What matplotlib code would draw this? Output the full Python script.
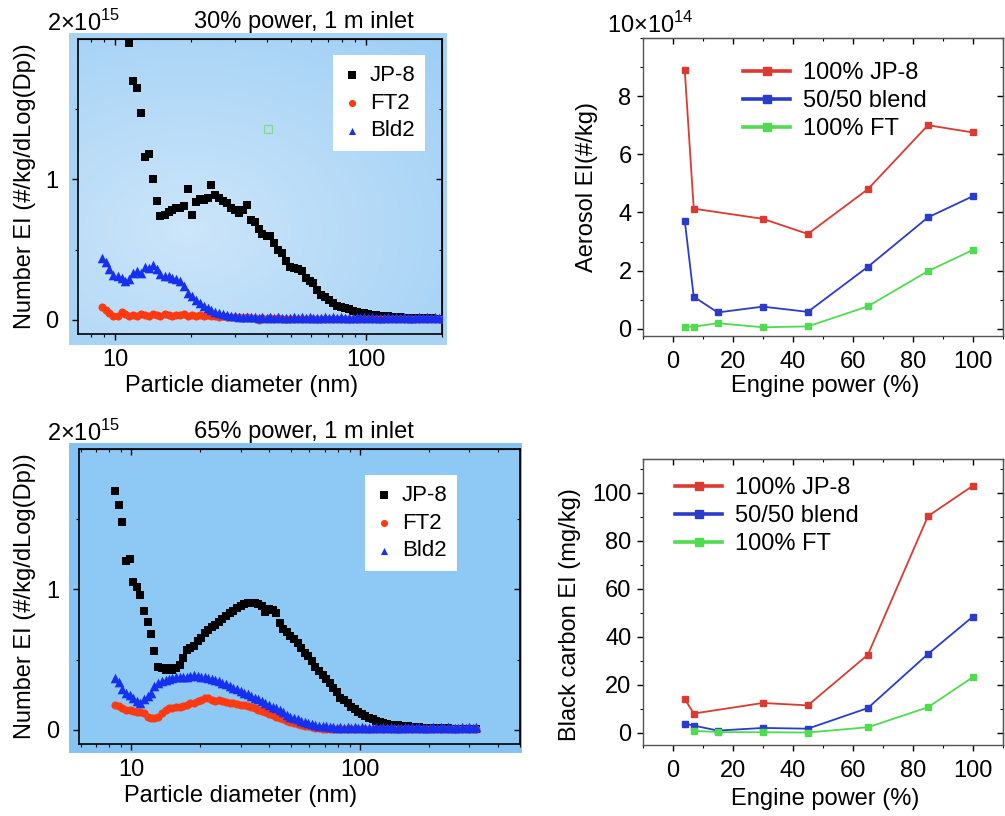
import numpy as np
import matplotlib
matplotlib.use('Agg')
import matplotlib.pyplot as plt
from matplotlib.patches import Rectangle
from matplotlib.ticker import NullFormatter, MultipleLocator, FixedLocator

plt.rcParams['font.family'] = ['Liberation Sans', 'DejaVu Sans']
plt.rcParams['mathtext.fontset'] = 'custom'
plt.rcParams['mathtext.rm'] = 'Liberation Sans'
plt.rcParams['font.size'] = 17

nan = np.nan

# ---- size distributions, 30% power (values in 1e15 #/kg/dLog(Dp)) ----
D30 = [8.82, 9.14, 9.47, 9.82, 10.2, 10.6, 10.9, 11.3,
       11.8, 12.2, 12.6, 13.1, 13.6, 14.1, 14.6, 15.1,
       15.7, 16.3, 16.8, 17.5, 18.1, 18.8, 19.5, 20.2,
       20.9, 21.7, 22.5, 23.3, 24.1, 25.0, 25.9, 26.9,
       27.9, 28.9, 30.0, 31.1, 32.2, 33.4, 34.6, 35.9,
       37.2, 38.5, 40.0, 41.4, 42.9, 44.5, 46.1, 47.8,
       49.6, 51.4, 53.3, 55.2, 57.3, 59.4, 61.5, 63.8,
       66.1, 68.5, 71.0, 73.7, 76.4, 79.1, 82.0, 85.1,
       88.2, 91.4, 94.7, 98.2, 101.8, 105.5, 109.4, 113.4,
       117.6, 121.9, 126.3, 131.0, 135.8, 140.7, 145.9, 151.2,
       156.8, 162.5, 168.5, 174.7, 181.1, 187.7, 194.6, 201.7]
JP8_30 = [nan, nan, nan, nan, nan, nan, nan, 1.97,
          1.70, 1.65, 1.47, 1.16, 1.18, 1.00, 0.85, 0.74,
          0.75, 0.77, 0.78, 0.80, 0.795, 0.81, 0.93, 0.75,
          0.84, 0.86, 0.855, 0.87, 0.96, 0.89, 0.87, 0.85,
          0.83, 0.80, 0.78, 0.76, 0.78, 0.82, 0.71, 0.70,
          0.65, 0.61, 0.60, 0.595, 0.55, 0.50, 0.48, 0.42,
          0.38, 0.37, 0.36, 0.35, 0.30, 0.275, 0.265, 0.21,
          0.18, 0.16, 0.14, 0.12, 0.10, 0.09, 0.088, 0.08,
          0.066, 0.06, 0.052, 0.046, 0.040, 0.037, 0.033, 0.030,
          0.027, 0.025, 0.022, 0.020, 0.018, 0.016, 0.015, 0.014,
          0.013, 0.012, 0.012, 0.011, 0.011, 0.010, 0.010, 0.010]
FT2_30 = [0.095, 0.07, 0.05, 0.03, 0.03, 0.055, 0.045, 0.03,
          0.035, 0.03, 0.04, 0.035, 0.03, 0.04, 0.035, 0.03,
          0.04, 0.035, 0.03, 0.038, 0.032, 0.04, 0.03, 0.035,
          0.03, 0.035, 0.028, 0.032, 0.025, 0.03, 0.022, 0.025,
          0.02, 0.022, 0.018, 0.02, 0.015, 0.018, 0.015, 0.012,
          0.0, 0.012, 0.01, 0.012, 0.01, 0.012, 0.01, 0.01,
          0.01, 0.01, 0.01, 0.01, 0.01, 0.01, 0.01, 0.01,
          0.01, 0.01, 0.01, 0.01, 0.01, 0.01, 0.01, 0.01,
          0.01, 0.01, 0.01, 0.01, 0.01, 0.01, 0.01, 0.01,
          0.01, 0.01, 0.01, 0.01, 0.01, 0.01, 0.01, 0.01,
          0.01, 0.01, 0.01, 0.01, 0.01, 0.01, 0.01, 0.01]
BLD2_30 = [0.44, 0.41, 0.36, 0.32, 0.31, 0.30, 0.28, 0.29,
           0.335, 0.35, 0.335, 0.38, 0.37, 0.39, 0.36, 0.33,
           0.31, 0.31, 0.30, 0.29, 0.28, 0.24, 0.19, 0.17,
           0.14, 0.12, 0.10, 0.085, 0.07, 0.06, 0.05, 0.04,
           0.035, 0.03, 0.028, 0.022, 0.02, 0.024, 0.018, 0.02,
           0.015, 0.02, 0.012, 0.018, 0.014, 0.02, 0.012, 0.017,
           0.015, 0.02, 0.012, 0.018, 0.014, 0.02, 0.012, 0.017,
           0.015, 0.02, 0.012, 0.018, 0.014, 0.02, 0.012, 0.017,
           0.015, 0.02, 0.012, 0.018, 0.014, 0.02, 0.012, 0.017,
           0.015, 0.02, 0.012, 0.018, 0.014, 0.02, 0.012, 0.017,
           0.015, 0.02, 0.012, 0.018, 0.014, 0.02, 0.012, 0.017]

# ---- size distributions, 65% power ----
D65 = [8.51, 8.82, 9.14, 9.47, 9.82, 10.2, 10.6, 10.9,
       11.3, 11.8, 12.2, 12.6, 13.1, 13.6, 14.1, 14.6,
       15.1, 15.7, 16.3, 16.8, 17.5, 18.1, 18.8, 19.5,
       20.2, 20.9, 21.7, 22.5, 23.3, 24.1, 25.0, 25.9,
       26.9, 27.9, 28.9, 30.0, 31.1, 32.2, 33.4, 34.6,
       35.9, 37.2, 38.5, 40.0, 41.4, 42.9, 44.5, 46.1,
       47.8, 49.6, 51.4, 53.3, 55.2, 57.3, 59.4, 61.5,
       63.8, 66.1, 68.5, 71.0, 73.7, 76.4, 79.1, 82.0,
       85.1, 88.2, 91.4, 94.7, 98.2, 101.8, 105.5, 109.4,
       113.4, 117.6, 121.9, 126.3, 131.0, 135.8, 140.7, 145.9,
       151.2, 156.8, 162.5, 168.5, 174.7, 181.1, 187.7, 194.6,
       201.7, 209.1, 216.7, 224.7, 232.9, 241.4, 250.3, 259.5,
       269.0, 278.8, 289.0, 299.6, 310.6, 322.0]
JP8_65 = [1.70, 1.60, 1.48, 1.20, 1.22, 1.05, 1.02, 0.96,
          0.85, 0.77, 0.68, 0.56, 0.45, 0.44, 0.43, 0.44,
          0.425, 0.44, 0.46, 0.51, 0.57, 0.58, 0.60, 0.63,
          0.655, 0.69, 0.71, 0.73, 0.75, 0.77, 0.79, 0.81,
          0.83, 0.85, 0.865, 0.88, 0.90, 0.905, 0.905, 0.905,
          0.90, 0.88, 0.84, 0.86, 0.855, 0.83, 0.76, 0.72,
          0.70, 0.67, 0.645, 0.62, 0.58, 0.545, 0.525, 0.49,
          0.45, 0.42, 0.39, 0.36, 0.335, 0.30, 0.27, 0.23,
          0.215, 0.19, 0.165, 0.15, 0.13, 0.115, 0.10, 0.085,
          0.075, 0.065, 0.055, 0.048, 0.042, 0.038, 0.035, 0.032,
          0.03, 0.028, 0.025, 0.022, 0.02, 0.018, 0.016, 0.015,
          0.014, 0.013, 0.012, 0.012, 0.011, 0.011, 0.010, 0.010,
          0.010, 0.010, 0.010, 0.010, 0.010, 0.010]
FT2_65 = [0.18, 0.17, 0.155, 0.14, 0.14, 0.135, 0.13, 0.125,
          0.12, 0.095, 0.088, 0.088, 0.095, 0.12, 0.14, 0.155,
          0.155, 0.16, 0.165, 0.17, 0.18, 0.19, 0.195, 0.205,
          0.21, 0.225, 0.23, 0.215, 0.205, 0.21, 0.205, 0.20,
          0.195, 0.19, 0.185, 0.18, 0.175, 0.17, 0.165, 0.155,
          0.145, 0.135, 0.125, 0.115, 0.105, 0.095, 0.085, 0.075,
          0.065, 0.055, 0.048, 0.04, 0.035, 0.03, 0.025, 0.02,
          0.015, 0.012, 0.01, 0.01, 0.01, 0.01, 0.01, 0.01,
          0.01, 0.01, 0.01, 0.01, 0.01, 0.01, 0.01, 0.01,
          0.01, 0.01, 0.01, 0.01, 0.01, 0.01, 0.01, 0.01,
          0.01, 0.01, 0.01, 0.01, 0.01, 0.01, 0.01, 0.01,
          0.01, 0.01, 0.01, 0.01, 0.01, 0.01, 0.01, 0.01,
          0.01, 0.01, 0.01, 0.01, 0.01, 0.01]
BLD2_65 = [0.37, 0.34, 0.29, 0.265, 0.25, 0.23, 0.205, 0.195,
           0.22, 0.24, 0.265, 0.31, 0.335, 0.345, 0.355, 0.36,
           0.37, 0.375, 0.375, 0.38, 0.38, 0.385, 0.39, 0.385,
           0.38, 0.375, 0.37, 0.36, 0.355, 0.345, 0.335, 0.325,
           0.31, 0.30, 0.29, 0.275, 0.265, 0.255, 0.24, 0.23,
           0.22, 0.205, 0.19, 0.18, 0.165, 0.155, 0.14, 0.125,
           0.11, 0.095, 0.085, 0.075, 0.065, 0.055, 0.047, 0.04,
           0.035, 0.03, 0.027, 0.025, 0.022, 0.02, 0.016, 0.02,
           0.015, 0.02, 0.012, 0.018, 0.014, 0.02, 0.012, 0.017,
           0.015, 0.02, 0.012, 0.018, 0.014, 0.02, 0.012, 0.017,
           0.015, 0.02, 0.012, 0.018, 0.014, 0.02, 0.012, 0.017,
           0.015, 0.02, 0.012, 0.018, 0.014, 0.02, 0.012, 0.017,
           0.015, 0.02, 0.012, 0.018, 0.014, 0.02]
STRAY_POINT = (40.4, 1.36)

# ---- engine power sweeps ----
AER_JP8_X = [4, 7, 30, 45, 65, 85, 100]
AER_JP8 = [8.9, 4.13, 3.78, 3.26, 4.8, 7.0, 6.75]
AER_BLEND_X = [4, 7, 15, 30, 45, 65, 85, 100]
AER_BLEND = [3.72, 1.1, 0.56, 0.76, 0.58, 2.13, 3.83, 4.56]
AER_FT_X = [4, 7, 15, 30, 45, 65, 85, 100]
AER_FT = [0.07, 0.07, 0.19, 0.05, 0.08, 0.77, 1.98, 2.71]

BC_JP8_X = [4, 7, 30, 45, 65, 85, 100]
BC_JP8 = [14.2, 8.1, 12.5, 11.5, 32.6, 90.3, 103.0]
BC_BLEND_X = [4, 7, 15, 30, 45, 65, 85, 100]
BC_BLEND = [3.9, 3.1, 1.0, 2.1, 1.8, 10.4, 32.9, 48.5]
BC_FT_X = [7, 15, 30, 45, 65, 85, 100]
BC_FT = [0.9, 0.4, 0.3, 0.2, 2.4, 10.7, 23.3]

W, H = 1005, 816
fig = plt.figure(figsize=(W / 100, H / 100), dpi=100)


def fbox(x0, y0, x1, y1):
    # pixel box (top-left origin) -> figure fraction rect
    return [x0 / W, 1 - y1 / H, (x1 - x0) / W, (y1 - y0) / H]


def style_ticks(ax, major_len=4, minor_len=2.5):
    ax.tick_params(which='major', direction='out', length=major_len, width=1)
    ax.tick_params(which='minor', direction='out', length=minor_len, width=0.8)
    for loc in ('top', 'right'):
        sec = ax.secondary_xaxis('top') if loc == 'top' else ax.secondary_yaxis('right')
        axis = sec.xaxis if loc == 'top' else sec.yaxis
        src = ax.xaxis if loc == 'top' else ax.yaxis
        axis.set_major_locator(FixedLocator(src.get_majorticklocs()))
        axis.set_minor_locator(FixedLocator(src.get_minorticklocs()))
        sec.tick_params(which='major', direction='in', length=major_len, width=1,
                        labeltop=False, labelright=False)
        sec.tick_params(which='minor', direction='in', length=minor_len, width=0.8)
        axis.set_major_formatter(NullFormatter())
        axis.set_minor_formatter(NullFormatter())


def backdrop(x0, y0, x1, y1, color):
    r = fbox(x0, y0, x1, y1)
    fig.add_artist(Rectangle(r[:2], r[2], r[3], transform=fig.transFigure,
                             facecolor=color, edgecolor='none', zorder=-2))


# blue backdrop boxes behind the size-distribution panels
backdrop(69, 33, 447, 345, '#a9d3f5')
backdrop(69, 443, 522, 753, '#86c3f2')


def size_panel(rect, d, jp8, ft2, bld2, xlim, title_y, legend_box, xlabel_x, ylabel_x):
    ax = fig.add_axes(rect)
    ax.set_xscale('log')
    ax.scatter(d, jp8, marker='s', s=30, color='black', linewidths=0, label='JP-8', zorder=3)
    ax.scatter(d, ft2, marker='o', s=34, color='#ff3a10', linewidths=0, label='FT2', zorder=4)
    ax.scatter(d, bld2, marker='^', s=48, color='#1530f0', linewidths=0, label='Bld2', zorder=5)
    ax.set_xlim(*xlim)
    ax.set_ylim(-0.1, 2)
    ax.set_xticks([10, 100], ['10', '100'])
    ax.xaxis.set_minor_formatter(NullFormatter())
    ax.set_yticks([0, 1], ['0', '1'])
    ax.yaxis.set_minor_locator(FixedLocator([0.5, 1.5]))
    ax.tick_params(axis='x', which='major', pad=7)
    ax.tick_params(axis='y', which='major', pad=10)
    style_ticks(ax)
    for s in ax.spines.values():
        s.set_linewidth(1.2)
    ax.set_xlabel('Particle diameter (nm)')
    ax.xaxis.set_label_coords(xlabel_x, -0.14)
    ax.set_ylabel('Number EI (#/kg/dLog(Dp))')
    ax.yaxis.set_label_coords(ylabel_x, 0.5)
    leg = ax.legend(loc='upper left', bbox_to_anchor=legend_box, bbox_transform=fig.transFigure,
                    frameon=True, fancybox=False, edgecolor='none', facecolor='white',
                    framealpha=1, fontsize=16, handlelength=0.8, handletextpad=0.4,
                    borderpad=0.45, labelspacing=0.3, borderaxespad=0, scatterpoints=1)
    for h in leg.legend_handles:
        h.set_sizes([26])
    leg.set_zorder(10)
    fig.text(47 / W, 1 - title_y / H, '2×10$^{15}$', fontsize=17, va='baseline', ha='left')
    return ax


ax1 = size_panel(fbox(78, 39, 442, 334), D30, JP8_30, FT2_30, BLD2_30, (7.1, 200), 31,
                 (333 / W, 1 - 55 / H), 0.448, -0.115)
fig.text(304 / W, 1 - 28 / H, '30% power, 1 m inlet', ha='center', va='baseline', fontsize=17)
ax1.plot([STRAY_POINT[0]], [STRAY_POINT[1]], marker='s', ms=6, mfc='none', mec='#7fd88a',
         mew=0.8, ls='none')

ax3 = size_panel(fbox(79, 449, 520, 744), D65, JP8_65, FT2_65, BLD2_65, (5.9, 500), 441,
                 (365 / W, 1 - 475 / H), 0.367, -0.0975)
fig.text(304 / W, 1 - 438 / H, '65% power, 1 m inlet', ha='center', va='baseline', fontsize=17)

# gradient face for top-left panel, flat face for bottom-left
yy, xx = np.mgrid[0:1:200j, 0:1:200j]
r = np.clip(np.hypot((xx - 0.3) / 1.0, (yy - 0.35) / 0.9), 0, 1)
light = np.array([0.80, 0.90, 0.98])
dark = np.array([0.62, 0.81, 0.96])
img = light[None, None, :] * (1 - r[..., None]) + dark[None, None, :] * r[..., None]
ax1.imshow(img, extent=[0, 1, 0, 1], transform=ax1.transAxes, origin='lower',
           aspect='auto', zorder=0)
ax1.set_xlim(7.1, 200)
ax1.set_ylim(-0.1, 2)
ax3.set_facecolor('#8ec8f5')

# ---- engine power panels ----
RED, BLUE, GREEN = '#dc3a30', '#2a3ccc', '#4fdc4f'


def power_panel(rect, series, ylim, yticks, ymin_step, ylabel, legend_xy, ylabel_xy, ypad):
    ax = fig.add_axes(rect)
    for (x, y, c, lab) in series:
        ax.plot(x, y, color=c, lw=1.3, marker='s', ms=4.5, label=lab)
    ax.set_xlim(-10, 110)
    ax.set_ylim(*ylim)
    ax.set_xticks([0, 20, 40, 60, 80, 100])
    ax.xaxis.set_minor_locator(MultipleLocator(10))
    ax.set_yticks(yticks)
    ax.yaxis.set_minor_locator(MultipleLocator(ymin_step))
    ax.tick_params(axis='x', which='major', pad=7)
    ax.tick_params(axis='y', which='major', pad=ypad)
    style_ticks(ax)
    for s in ax.spines.values():
        s.set_linewidth(1.0)
        s.set_color('#555555')
    ax.set_xlabel('Engine power (%)')
    ax.set_ylabel(ylabel)
    ax.yaxis.set_label_coords(*ylabel_xy)
    leg = ax.legend(loc='upper left', bbox_to_anchor=legend_xy, bbox_transform=fig.transFigure,
                    frameon=False, fontsize=17, handlelength=2.0, handletextpad=0.55,
                    borderpad=0, labelspacing=0.26, borderaxespad=0)
    for h in leg.get_lines():
        h.set_linewidth(2.6)
        h.set_markersize(6)
    return ax


ax2 = power_panel(fbox(642.7, 38, 1003, 336),
                  [(AER_JP8_X, AER_JP8, RED, '100% JP-8'),
                   (AER_BLEND_X, AER_BLEND, BLUE, '50/50 blend'),
                   (AER_FT_X, AER_FT, GREEN, '100% FT')],
                  (-0.25, 10), [0, 2, 4, 6, 8], 1, 'Aerosol EI(#/kg)',
                  (743 / W, 1 - 62 / H), (-0.124, 0.5), 4)
ax2.xaxis.set_label_coords(0.506, -0.13)
fig.text(607 / W, 1 - 33 / H, '10×10$^{14}$', fontsize=17, va='baseline', ha='left')

ax4 = power_panel(fbox(642.7, 459.3, 1003, 745),
                  [(BC_JP8_X, BC_JP8, RED, '100% JP-8'),
                   (BC_BLEND_X, BC_BLEND, BLUE, '50/50 blend'),
                   (BC_FT_X, BC_FT, GREEN, '100% FT')],
                  (-5, 114), [0, 20, 40, 60, 80, 100], 10, 'Black carbon EI (mg/kg)',
                  (675 / W, 1 - 477 / H), (-0.171, 0.455), 4)
ax4.xaxis.set_label_coords(0.506, -0.15)

fig.savefig('out.png', dpi=100)
